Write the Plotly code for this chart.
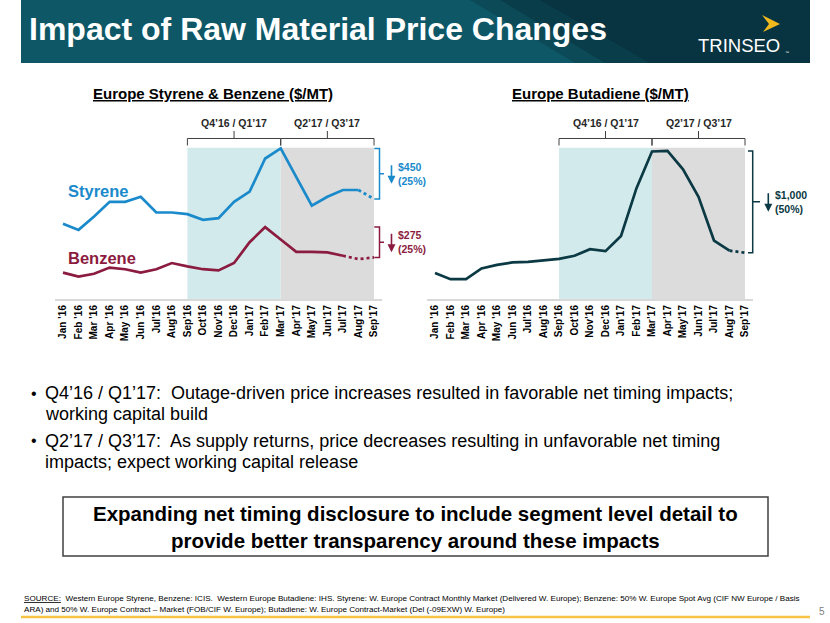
import plotly.graph_objects as go

W, H = 830, 623

# ---------------- data ----------------
months = ["Jan ’16", "Feb ’16", "Mar ’16", "Apr ’16", "May ’16", "Jun ’16", "Jul’16", "Aug’16",
          "Sep’16", "Oct’16", "Nov’16", "Dec’16", "Jan’17", "Feb’17", "Mar’17", "Apr’17",
          "May’17", "Jun’17", "Jul’17", "Aug’17", "Sep’17"]
styrene = [1130, 1075, 1195, 1325, 1325, 1370, 1230, 1230, 1215, 1165, 1180, 1325, 1415, 1710,
           1800, 1550, 1290, 1370, 1430, 1430, 1350]
benzene = [695, 660, 685, 740, 725, 695, 725, 780, 750, 725, 715, 780, 965, 1100, 990, 880, 880,
           875, 845, 815, 830]
butadiene = [800, 740, 740, 845, 880, 905, 910, 925, 940, 970, 1035, 1015, 1165, 1635, 1995, 2000,
             1820, 1550, 1120, 1020, 1000]
# last actual month (after it the line is dotted / estimate)
styrene_last_actual = "Aug’17"
benzene_last_actual = "Jul’17"
butadiene_last_actual = "Aug’17"
period1 = ("Sep’16", "Mar’17", "Q4’16 / Q1’17")
period2 = ("Mar’17", "Sep’17", "Q2’17 / Q3’17")
styrene_drop = "$450<br>(25%)"
benzene_drop = "$275<br>(25%)"
butadiene_drop = "$1,000<br>(50%)"

BLUE = "#1A8ACB"
MAROON = "#8B1C40"
DTEAL = "#0B3944"
CYAN_BG = "#D3EAEC"
GREY_BG = "#DCDCDC"

ARIAL = "Liberation Sans, Arial, sans-serif"


def px(x):
    return x / W


def py(y):
    return 1 - y / H


idx = list(range(len(months)))
mi = {m: i for i, m in enumerate(months)}

fig = go.Figure()


def add_series(vals, last_actual, color, xa, ya):
    k = mi[last_actual]
    fig.add_trace(go.Scatter(x=idx[:k + 1], y=vals[:k + 1], mode="lines",
                             line=dict(color=color, width=2.7), xaxis=xa, yaxis=ya,
                             hoverinfo="skip", showlegend=False))
    fig.add_trace(go.Scatter(x=idx[k:], y=vals[k:], mode="lines",
                             line=dict(color=color, width=2.7, dash="dot"), xaxis=xa, yaxis=ya,
                             hoverinfo="skip", showlegend=False))


add_series(styrene, styrene_last_actual, BLUE, "x", "y")
add_series(benzene, benzene_last_actual, MAROON, "x", "y")
add_series(butadiene, butadiene_last_actual, DTEAL, "x2", "y2")

YL = [460, 1875]
YR = [545, 2108]
SHADE_TOP_L = 1806
SHADE_TOP_R = 2032
ydom = [py(299), py(140)]

tick_text = ["<b>%s</b>" % m for m in months]
xcommon = dict(range=[-0.5, len(months) - 0.5], tickmode="array", tickvals=idx, ticktext=tick_text,
               tickangle=-90, tickfont=dict(family=ARIAL, size=10, color="#000000"),
               showgrid=False, zeroline=False, showline=True, linecolor="#D9D9D9", linewidth=2,
               ticks="", fixedrange=True)
ycommon = dict(visible=False, showgrid=False, zeroline=False, fixedrange=True)

fig.update_layout(
    width=W, height=H, margin=dict(l=0, r=0, t=0, b=0),
    paper_bgcolor="white", plot_bgcolor="rgba(0,0,0,0)",
    xaxis=dict(domain=[px(55.2), px(381.8)], anchor="y", **xcommon),
    yaxis=dict(domain=ydom, range=YL, anchor="x", **ycommon),
    xaxis2=dict(domain=[px(427.25), px(752.75)], anchor="y2", **xcommon),
    yaxis2=dict(domain=ydom, range=YR, anchor="x2", **ycommon),
)

shapes = []
annotations = []

# ---- header band ----
shapes.append(dict(type="rect", xref="paper", yref="paper", x0=px(21), x1=px(810), y0=py(63), y1=py(0),
                   fillcolor="#0E5767", line=dict(width=0), layer="below"))
for (xt, xb, col) in ((470, 575, "#0C4A58"), (500, 605, "#0A3D4A"), (540, 650, "#083340")):
    shapes.append(dict(type="path", xref="paper", yref="paper",
                       path="M %f,%f L %f,%f L %f,%f L %f,%f Z" % (px(xt), py(0), px(810), py(0), px(810), py(63), px(xb), py(63)),
                       fillcolor=col, line=dict(width=0), layer="below"))
# logo mark
shapes.append(dict(type="path", xref="paper", yref="paper",
                   path="M %f,%f L %f,%f L %f,%f L %f,%f Z" % (px(762), py(15), px(780), py(24), px(763), py(32), px(769), py(24)),
                   fillcolor="#F2B91E", line=dict(width=0)))
annotations.append(dict(x=px(27), y=py(29), xref="paper", yref="paper", xanchor="left", yanchor="middle",
                        text="<b>Impact of Raw Material Price Changes</b>", showarrow=False,
                        font=dict(family=ARIAL, size=32, color="white")))
annotations.append(dict(x=px(782), y=py(45), xref="paper", yref="paper", xanchor="right", yanchor="middle",
                        text="TRINSEO", showarrow=False,
                        font=dict(family=ARIAL, size=18.5, color="white")))
annotations.append(dict(x=px(783), y=py(52), xref="paper", yref="paper", xanchor="left", yanchor="middle",
                        text="™", showarrow=False,
                        font=dict(family=ARIAL, size=4, color="white")))

# ---- chart titles ----
annotations.append(dict(x=px(213), y=py(93), xref="paper", yref="paper", xanchor="center", yanchor="middle",
                        text="<b><u>Europe Styrene &amp; Benzene ($/MT)</u></b>", showarrow=False,
                        font=dict(family=ARIAL, size=15, color="#000000")))
annotations.append(dict(x=px(600), y=py(93), xref="paper", yref="paper", xanchor="center", yanchor="middle",
                        text="<b><u>Europe Butadiene ($/MT)</u></b>", showarrow=False,
                        font=dict(family=ARIAL, size=15, color="#000000")))

# ---- shaded periods + brackets ----
for xa, ya, top in (("x", "y", SHADE_TOP_L), ("x2", "y2", SHADE_TOP_R)):
    yr = YL if ya == "y" else YR
    for (a, b, lab), col in ((period1, CYAN_BG), (period2, GREY_BG)):
        x0, x1 = mi[a], mi[b]
        shapes.append(dict(type="rect", xref=xa, yref=ya, x0=x0, x1=x1, y0=yr[0], y1=top,
                           fillcolor=col, line=dict(width=0), layer="below"))
        xm = (x0 + x1) / 2
        shapes.append(dict(type="path", xref=xa, yref="paper",
                           path="M %f,%f L %f,%f L %f,%f L %f,%f M %f,%f L %f,%f" % (
                               x0, py(145.5), x0, py(138.5), x1, py(138.5), x1, py(145.5),
                               xm, py(138.5), xm, py(131)),
                           line=dict(color="#404040", width=1)))
        annotations.append(dict(x=xm, y=py(123), xref=xa, yref="paper", xanchor="center", yanchor="middle",
                                text="<b>%s</b>" % lab, showarrow=False,
                                font=dict(family=ARIAL, size=10.5, color="#262626")))

# ---- series labels ----
annotations.append(dict(x=px(66), y=py(191), xref="paper", yref="paper", xanchor="left", yanchor="middle",
                        text="<b>Styrene</b>", showarrow=False, font=dict(family=ARIAL, size=16.5, color=BLUE)))
annotations.append(dict(x=px(66), y=py(258), xref="paper", yref="paper", xanchor="left", yanchor="middle",
                        text="<b>Benzene</b>", showarrow=False, font=dict(family=ARIAL, size=16.5, color=MAROON)))


# ---- vertical drop brackets ----
def drop_bracket(vals, color, xref_y, xl, xb, xt, label, xarrow, xtext):
    hi, lo = max(vals), vals[-1]
    mid = (hi + lo) / 2
    shapes.append(dict(type="path", xref="paper", yref=xref_y,
                       path="M %f,%f L %f,%f L %f,%f L %f,%f M %f,%f L %f,%f" % (
                           px(xl), hi, px(xb), hi, px(xb), lo, px(xl), lo, px(xb), mid, px(xt), mid),
                       line=dict(color=color, width=1.5)))
    annotations.append(dict(x=px(xarrow), y=mid, xref="paper", yref=xref_y, ax=0, ay=-20,
                            yshift=-10, text="", showarrow=True, arrowhead=2, arrowsize=1,
                            arrowwidth=1.6, arrowcolor=color, standoff=0))
    annotations.append(dict(x=px(xtext), y=mid, xref="paper", yref=xref_y, xanchor="left", yanchor="middle",
                            text="<b>%s</b>" % label, showarrow=False, align="left",
                            font=dict(family=ARIAL, size=10.5, color=color)))


drop_bracket(styrene, BLUE, "y", 374.3, 379.5, 384, styrene_drop, 391.5, 396)
drop_bracket(benzene, MAROON, "y", 374.3, 379.5, 384, benzene_drop, 391.5, 396)
drop_bracket(butadiene, DTEAL, "y2", 748, 752.7, 760, butadiene_drop, 768.3, 773)

# ---- bullets ----
bullets = [
    (393, True, "Q4’16 / Q1’17:  Outage-driven price increases resulted in favorable net timing impacts;"),
    (414, False, "working capital build"),
    (441, True, "Q2’17 / Q3’17:  As supply returns, price decreases resulting in unfavorable net timing"),
    (462, False, "impacts; expect working capital release"),
]
for yy, has_b, txt in bullets:
    if has_b:
        annotations.append(dict(x=px(29), y=py(yy), xref="paper", yref="paper", xanchor="left", yanchor="middle",
                                text="•", showarrow=False, font=dict(family=ARIAL, size=16, color="#000000")))
    annotations.append(dict(x=px(43), y=py(yy), xref="paper", yref="paper", xanchor="left", yanchor="middle",
                            text=txt, showarrow=False, font=dict(family=ARIAL, size=18, color="#000000")))

# ---- box ----
shapes.append(dict(type="rect", xref="paper", yref="paper", x0=px(63), x1=px(768), y0=py(556), y1=py(497),
                   fillcolor="white", line=dict(color="#404040", width=1.5)))
annotations.append(dict(x=px(415.5), y=py(526.5), xref="paper", yref="paper", xanchor="center", yanchor="middle",
                        text="<b>Expanding net timing disclosure to include segment level detail to<br>"
                             "provide better transparency around these impacts</b>",
                        showarrow=False, align="center",
                        font=dict(family=ARIAL, size=20.5, color="#000000")))

# ---- source + footer ----
annotations.append(dict(x=px(22), y=py(603.5), xref="paper", yref="paper", xanchor="left", yanchor="middle",
                        text="<u>SOURCE:</u>  Western Europe Styrene, Benzene: ICIS.  Western Europe Butadiene: IHS. "
                             "Styrene: W. Europe Contract Monthly Market (Delivered W. Europe); Benzene: 50% W. Europe "
                             "Spot Avg (CIF NW Europe / Basis<br>ARA) and 50% W. Europe Contract – Market (FOB/CIF W. Europe); "
                             "Butadiene: W. Europe Contract-Market (Del (-09EXW) W. Europe)",
                        showarrow=False, align="left",
                        font=dict(family=ARIAL, size=8.1, color="#000000")))
shapes.append(dict(type="line", xref="paper", yref="paper", x0=px(21), x1=px(810), y0=py(617), y1=py(617),
                   line=dict(color="#F6C344", width=2.5)))
annotations.append(dict(x=px(822), y=py(611), xref="paper", yref="paper", xanchor="center", yanchor="middle",
                        text="5", showarrow=False, font=dict(family=ARIAL, size=10, color="#7F7F7F")))

fig.update_layout(shapes=shapes, annotations=annotations)
fig.write_html("out.html", config={"displayModeBar": False, "staticPlot": True},
               post_script="document.body.style.margin='0';document.body.style.overflow='hidden';")
